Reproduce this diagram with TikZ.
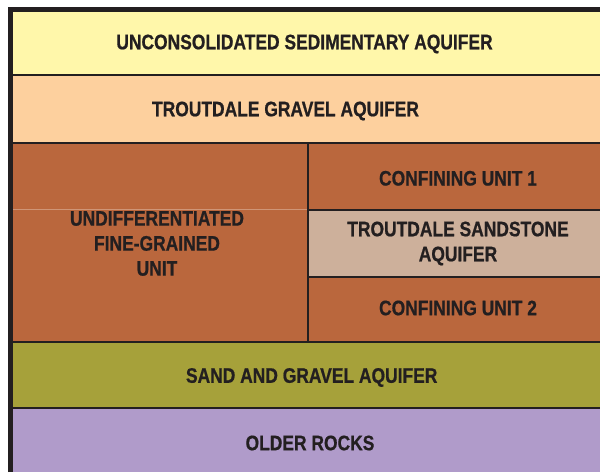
\documentclass[tikz,border=0pt]{standalone}
\usepackage{fontspec}
\newfontfamily\layerfont{Liberation Sans}[FakeStretch=0.83, BoldFeatures={FakeBold=0.7}]
\usepackage{tikz}
\usetikzlibrary{positioning}
\definecolor{inkgray}{HTML}{231F20}
\definecolor{sedyellow}{HTML}{FFF7AA}
\definecolor{gravelpeach}{HTML}{FDD09E}
\definecolor{finebrown}{HTML}{BA673D}
\definecolor{sandtan}{HTML}{CDB09B}
\definecolor{sandolive}{HTML}{A6A13A}
\definecolor{rockpurple}{HTML}{B09BCA}

\begin{document}
\begin{tikzpicture}[
  x=1pt, y=-1pt,
  layer/.style={inner sep=0pt, align=center, text=inkgray,
                font=\layerfont\bfseries\fontsize{21}{25}\selectfont},
  contact/.style={line width=2.5pt, inkgray},
  frame/.style={line width=5pt, inkgray}
]
  \useasboundingbox (0,0) rectangle (600,472);
  % layers
  \fill[sedyellow]   (13,12)  rectangle (600,75);
  \fill[gravelpeach] (13,75)  rectangle (600,143);
  \fill[finebrown]   (13,143) rectangle (600,342);
  \fill[sandtan]     (308,210) rectangle (600,277);
  \fill[sandolive]   (13,342) rectangle (600,408);
  \fill[rockpurple]  (13,408) rectangle (600,472);
  % contacts
  \draw[contact] (13,75) -- (600,75);
  \draw[contact] (13,143) -- (600,143);
  \draw[contact] (13,342) -- (600,342);
  \draw[contact] (13,408) -- (600,408);
  \draw[contact] (308,143) -- (308,342);
  \draw[contact] (308,210) -- (600,210);
  \draw[contact] (308,277) -- (600,277);
  \draw[line width=0.5pt, finebrown!70!white] (13,209) -- (307,209);
  \draw[frame] (10.8,472) -- (10.8,9.8) -- (600,9.8);
  % labels
  \node[layer] (sed) at (304.5,44) {UNCONSOLIDATED SEDIMENTARY AQUIFER};
  \node[layer] (tga) at (285.5,111) {TROUTDALE GRAVEL AQUIFER};
  \node[layer] (fgu) at (157,243.5) {UNDIFFERENTIATED\\FINE-GRAINED\\UNIT};
  \node[layer] (cu1) at (458,178.3) {CONFINING UNIT 1};
  \node[layer] (tsa) at (458,243.5) {TROUTDALE SANDSTONE\\AQUIFER};
  \node[layer] (cu2) at (458,308) {CONFINING UNIT 2};
  \node[layer] (sga) at (311.7,377.5) {SAND AND GRAVEL AQUIFER};
  \node[layer] (old) at (310,443) {OLDER ROCKS};
\end{tikzpicture}
\end{document}
